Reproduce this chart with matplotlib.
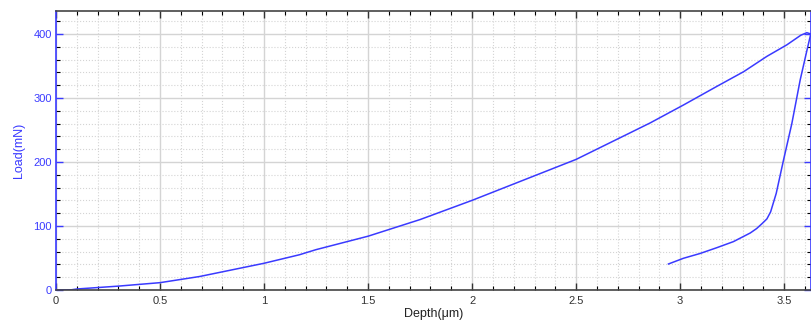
import numpy as np
import matplotlib.pyplot as plt
from matplotlib.ticker import MultipleLocator

plt.rcParams['font.family'] = ['Liberation Sans', 'DejaVu Sans']

# Loading branch (depth in um, load in mN)
load_depth = [0.0, 0.075, 0.1, 0.3, 0.5, 0.69, 1.0, 1.17, 1.25, 1.5, 1.75, 2.0,
              2.25, 2.5, 2.75, 2.856, 3.016, 3.176, 3.305, 3.417, 3.513, 3.58,
              3.609, 3.628]
load_force = [0.0, 0.3, 1.5, 6, 11.4, 21, 41.7, 55, 63, 84, 110, 140,
              172, 204, 244, 261, 289, 318, 341, 365, 383, 398,
              402, 400]

# Unloading branch
unload_depth = [3.628, 3.61, 3.577, 3.537, 3.497, 3.462, 3.435, 3.417, 3.395,
                3.368, 3.337, 3.256, 3.176, 3.096, 3.016, 2.944]
unload_force = [400, 375, 328, 260, 203, 151, 122, 111, 104,
                96, 89, 75.5, 66, 57, 49.5, 40.6]

blue = '#3a3aff'
fig = plt.figure(figsize=(8.12, 3.31), dpi=100)
ax = fig.add_axes([0.069, 0.124, 0.930, 0.843])

ax.plot(load_depth, load_force, color=blue, lw=1.1)
ax.plot(unload_depth, unload_force, color=blue, lw=1.1)

ax.set_xlim(0, 3.63)
ax.set_ylim(0, 436)
ax.xaxis.set_major_locator(MultipleLocator(0.5))
ax.xaxis.set_minor_locator(MultipleLocator(0.1))
ax.yaxis.set_major_locator(MultipleLocator(100))
ax.yaxis.set_minor_locator(MultipleLocator(20))
ax.set_xticks([0, 0.5, 1, 1.5, 2, 2.5, 3, 3.5])
ax.set_xticklabels(['0', '0.5', '1', '1.5', '2', '2.5', '3', '3.5'])

ax.grid(which='major', color='#d4d4d4', lw=1.0)
ax.grid(which='minor', color='#d4d4d4', lw=0.8, ls=':')
ax.set_axisbelow(True)

ax.tick_params(which='both', direction='in', top=True, right=True)
ax.tick_params(which='major', length=5, width=1)
ax.tick_params(which='minor', length=3, width=0.8)
ax.tick_params(axis='x', colors='#333333', labelsize=8, pad=4)
ax.tick_params(axis='y', colors=blue, labelsize=8, pad=3)

for s in ['left', 'right']:
    ax.spines[s].set_color(blue)
    ax.spines[s].set_linewidth(1.2)
for s in ['top', 'bottom']:
    ax.spines[s].set_color('#444444')
    ax.spines[s].set_linewidth(1.2)

ax.set_xlabel('Depth(μm)', fontsize=9, color='#222222', labelpad=2)
ax.set_ylabel('Load(mN)', fontsize=9, color=blue, labelpad=6)

fig.savefig('out.png', dpi=100)
